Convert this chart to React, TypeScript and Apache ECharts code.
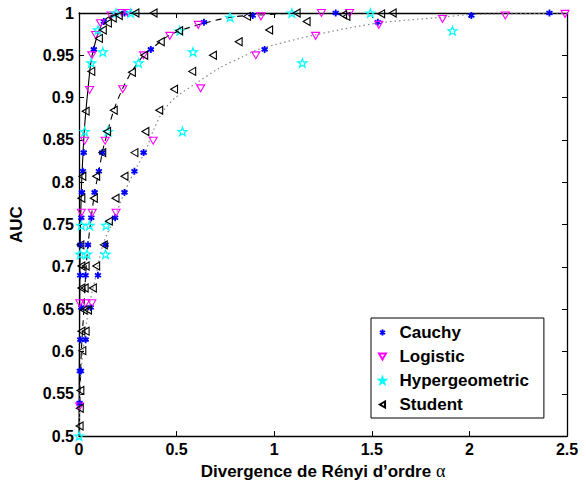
import React, { useEffect, useRef } from "react";
import * as echarts from "echarts";

const seriesNames = ["Cauchy", "Logistic", "Hypergeometric", "Student"];
const xTicks = [0, 0.5, 1, 1.5, 2, 2.5];
const yTicks = [0.5, 0.55, 0.6, 0.65, 0.7, 0.75, 0.8, 0.85, 0.9, 0.95, 1];

const cauchyPoints = [
  [0.127, 0.99], [0.233, 1.0], [0.076, 0.957], [0.024, 0.835], [0.02, 0.813], [0.015, 0.788],
  [0.012, 0.758], [0.007, 0.726], [0.006, 0.69], [0.012, 0.652], [0.007, 0.614], [0.004, 0.577], [0.003, 0.539],
  [0.64, 0.989], [0.89, 0.997], [1.315, 1.0], [0.368, 0.957], [0.119, 0.835], [0.102, 0.813],
  [0.08, 0.788], [0.063, 0.758], [0.046, 0.726], [0.034, 0.69],
  [1.531, 0.989], [2.01, 0.997], [2.41, 1.0], [0.951, 0.957], [0.331, 0.835], [0.284, 0.813],
  [0.233, 0.788], [0.185, 0.758], [0.136, 0.726], [0.097, 0.69], [0.06, 0.652], [0.034, 0.614], [0.01, 0.577],
];

const logisticPoints = [
  [0.164, 0.997], [0.22, 1.0], [0.249, 1.0], [0.11, 0.988], [0.085, 0.974], [0.066, 0.95],
  [0.054, 0.909], [0.029, 0.849], [0.012, 0.764], [0.004, 0.657], [0.003, 0.535],
  [0.932, 0.996], [1.242, 1.0], [1.386, 1.0], [0.611, 0.986], [0.465, 0.973], [0.331, 0.95],
  [0.224, 0.91], [0.134, 0.849], [0.068, 0.764], [0.034, 0.657],
  [1.862, 0.993], [2.184, 0.997], [2.49, 0.999], [1.536, 0.986], [1.212, 0.973], [0.906, 0.95],
  [0.623, 0.911], [0.38, 0.849], [0.19, 0.764], [0.066, 0.657],
];

const hyperPoints = [
  [0.19, 1.0], [0.265, 1.0], [0.774, 0.995], [1.09, 1.0], [1.493, 1.0],
  [0.097, 0.98], [0.516, 0.979], [1.913, 0.979], [0.122, 0.954], [0.584, 0.954],
  [0.063, 0.941], [0.305, 0.941], [1.144, 0.941], [0.029, 0.86], [0.148, 0.86], [0.53, 0.86],
  [0.012, 0.749], [0.054, 0.749], [0.139, 0.749], [0.007, 0.715], [0.041, 0.715], [0.136, 0.715],
  [0.0, 0.5],
];

const studentPoints = [
  [0.289, 1.0], [0.382, 1.0], [0.204, 0.997], [0.173, 0.994], [0.148, 0.988], [0.122, 0.98],
  [0.102, 0.97], [0.063, 0.931], [0.034, 0.884], [0.017, 0.807], [0.012, 0.781], [0.007, 0.726],
  [0.012, 0.701], [0.012, 0.675], [0.024, 0.649], [0.012, 0.624], [0.017, 0.601], [0.007, 0.554],
  [0.004, 0.533], [0.003, 0.512],
  [0.861, 0.996], [1.115, 1.0], [1.353, 0.998], [1.37, 0.996], [0.513, 0.979], [0.419, 0.966],
  [0.334, 0.95], [0.271, 0.93], [0.178, 0.885], [0.144, 0.86], [0.119, 0.835], [0.088, 0.807],
  [0.076, 0.781], [0.034, 0.701], [0.029, 0.675], [0.046, 0.649], [0.034, 0.624],
  [1.548, 0.999], [1.607, 1.0], [1.166, 0.99], [0.974, 0.98], [0.818, 0.966], [0.686, 0.95],
  [0.58, 0.931], [0.487, 0.91], [0.411, 0.885], [0.34, 0.86], [0.284, 0.835], [0.233, 0.807],
  [0.187, 0.781], [0.153, 0.754], [0.127, 0.726], [0.088, 0.701], [0.071, 0.675],
];

const solidCurve = [
  [0, 0.5], [0.002, 0.6], [0.005, 0.7], [0.007, 0.742], [0.012, 0.79], [0.02, 0.832],
  [0.029, 0.867], [0.046, 0.91], [0.063, 0.945], [0.088, 0.969], [0.122, 0.989], [0.156, 0.996],
  [0.22, 1.0], [0.3, 1.0],
];

const dashedCurve = [
  [0, 0.5], [0.005, 0.55], [0.012, 0.6], [0.025, 0.65], [0.034, 0.69], [0.046, 0.726],
  [0.08, 0.788], [0.102, 0.813], [0.119, 0.835], [0.134, 0.849], [0.178, 0.885], [0.224, 0.911],
  [0.271, 0.931], [0.331, 0.95], [0.368, 0.957], [0.465, 0.974], [0.611, 0.986], [0.774, 0.995],
  [0.95, 0.998], [1.1, 1.0],
];

const dottedCurve = [
  [0, 0.5], [0.005, 0.55], [0.012, 0.58], [0.029, 0.617], [0.054, 0.656], [0.088, 0.691],
  [0.122, 0.726], [0.187, 0.761], [0.233, 0.788], [0.284, 0.813], [0.343, 0.838], [0.377, 0.859],
  [0.428, 0.883], [0.494, 0.9], [0.6, 0.917], [0.72, 0.935], [0.835, 0.948], [0.92, 0.957],
  [1.207, 0.974], [1.53, 0.988], [1.86, 0.995], [2.0, 0.998], [2.21, 0.999], [2.5, 1.0],
];

const FONT = "'Liberation Sans', Arial, Helvetica, sans-serif";

const asteriskPath = "path://M5,0L5,10M0.67,2.5L9.33,7.5M0.67,7.5L9.33,2.5";
const downTriPath = "path://M0,0L10,0L5,8.66Z";
const starPath =
  "path://M0,-5L1.18,-1.62L4.76,-1.55L1.9,0.62L2.94,4.05L0,2L-2.94,4.05L-1.9,0.62L-4.76,-1.55L-1.18,-1.62Z";
const leftTriPath = "path://M0,5L8.66,0L8.66,10Z";

const fmt = (v: number) => String(Number(v.toFixed(2)));

export default function App() {
  const ref = useRef<HTMLDivElement>(null);
  useEffect(() => {
    if (!ref.current) return;
    const chart = echarts.init(ref.current, null, { renderer: "svg" });

    const axisCommon = {
      axisLine: { show: true, onZero: false, lineStyle: { color: "#000", width: 1.3 } },
      axisTick: { show: true, inside: true, length: 5, lineStyle: { color: "#000", width: 1 } },
      splitLine: { show: false },
    };

    const scatter = (name: string, data: number[][], symbol: string, color: string, size: number, bw: number) => ({
      name,
      type: "scatter",
      data,
      symbol,
      symbolSize: size,
      symbolKeepAspect: true,
      z: 3,
      itemStyle: { color: "rgba(0,0,0,0)", borderColor: color, borderWidth: bw, opacity: 1 },
      emphasis: { disabled: true },
    });

    const line = (name: string, data: number[][], color: string, type: any, width: number) => ({
      name,
      type: "line",
      data,
      showSymbol: false,
      symbol: "none",
      smooth: 0.3,
      silent: true,
      z: 2,
      lineStyle: { color, type, width },
    });

    chart.setOption({
      animation: false,
      backgroundColor: "#fff",
      grid: { left: 76, right: 19, top: 13, bottom: 45, containLabel: false },
      legend: {
        data: seriesNames,
        orient: "vertical",
        left: 371,
        top: 318,
        itemWidth: 24,
        itemHeight: 6,
        itemGap: 7,
        padding: [6, 15, 5, 7],
        borderColor: "#000",
        borderWidth: 1,
        backgroundColor: "#fff",
        textStyle: { fontFamily: FONT, fontWeight: "bold", fontSize: 17, color: "#000" },
        selectedMode: false,
      },
      xAxis: [
        {
          type: "value",
          min: xTicks[0],
          max: xTicks[xTicks.length - 1],
          interval: 0.5,
          position: "bottom",
          ...axisCommon,
          axisLabel: { show: true, margin: 5, fontFamily: FONT, fontWeight: "bold", fontSize: 16, color: "#000", formatter: fmt },
          name: "Divergence de Rényi d’ordre {a|α}",
          nameLocation: "middle",
          nameGap: 22,
          nameTextStyle: {
            fontFamily: FONT, fontWeight: "bold", fontSize: 17, color: "#000",
            rich: { a: { fontFamily: "'Liberation Serif', serif", fontWeight: "normal", fontSize: 18, color: "#000" } },
          },
        },
        {
          type: "value",
          min: xTicks[0],
          max: xTicks[xTicks.length - 1],
          interval: 0.5,
          position: "top",
          ...axisCommon,
          axisLabel: { show: false },
        },
      ],
      yAxis: [
        {
          type: "value",
          min: yTicks[0],
          max: yTicks[yTicks.length - 1],
          interval: 0.05,
          position: "left",
          ...axisCommon,
          axisLabel: { show: true, margin: 5, fontFamily: FONT, fontWeight: "bold", fontSize: 16, color: "#000", formatter: fmt },
          name: "AUC",
          nameLocation: "middle",
          nameGap: 54,
          nameTextStyle: { fontFamily: FONT, fontWeight: "bold", fontSize: 17, color: "#000" },
        },
        {
          type: "value",
          min: yTicks[0],
          max: yTicks[yTicks.length - 1],
          interval: 0.05,
          position: "right",
          ...axisCommon,
          axisLabel: { show: false },
        },
      ],
      series: [
        line("solid", solidCurve, "#000", "solid", 1.1),
        line("dashed", dashedCurve, "#000", [6, 5], 1.1),
        line("dotted", dottedCurve, "#888", [1.5, 3], 1.2),
        scatter("Cauchy", cauchyPoints, asteriskPath, "#0000ff", 7, 1.8),
        scatter("Logistic", logisticPoints, downTriPath, "#ff00ff", 8, 1.1),
        scatter("Hypergeometric", hyperPoints, starPath, "#00ffff", 9, 1.2),
        scatter("Student", studentPoints, leftTriPath, "#000000", 8, 1.1),
      ],
    });
    return () => chart.dispose();
  }, []);
  return <div ref={ref} style={{ position: "absolute", left: 0, top: 0, width: 586, height: 485 }} />;
}
